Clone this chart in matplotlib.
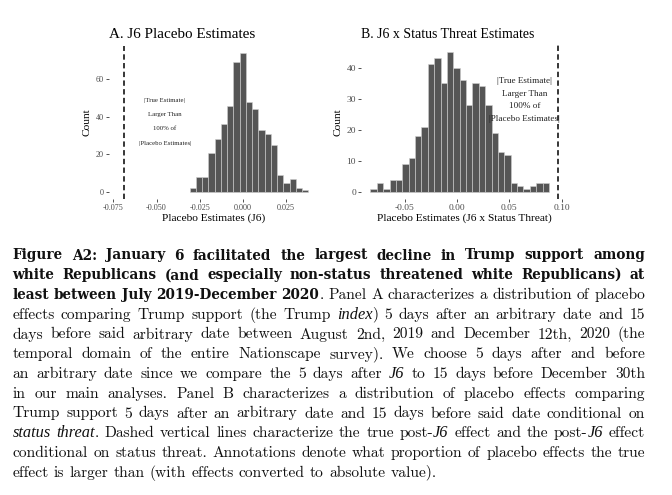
import numpy as np
import matplotlib
matplotlib.use("Agg")
import matplotlib.pyplot as plt

# Panel A: J6 placebo estimates (histogram)
a_start, a_width = -0.0309, 0.00362
a_counts = [2, 8, 8, 21, 28, 36, 46, 69, 74, 48, 44, 33, 31, 25, 9, 5, 7, 2, 1]
a_true = -0.0690
a_xticks = [-0.075, -0.050, -0.025, 0.000, 0.025]
a_yticks = [0, 20, 40, 60]
a_note_xy = (-0.0452, 37.4)

# Panel B: J6 x status threat estimates
b_start, b_width = -0.0828, 0.0061
b_counts = [1, 3, 1, 4, 4, 9, 11, 18, 21, 41, 43, 35, 45, 40, 36, 28, 35, 34,
            28, 19, 13, 12, 3, 2, 1, 2, 3, 3]
b_true = 0.0962
b_xticks = [-0.05, 0.00, 0.05, 0.10]
b_yticks = [0, 10, 20, 30, 40]
b_note_xy = (0.0646, 29.6)

note = "|True Estimate|\nLarger Than\n100% of\n|Placebo Estimates|"

# caption: * toggles bold, _ toggles italic
caption = [
    "*Figure A2: January 6 facilitated the largest decline in Trump support among*",
    "*white Republicans (and especially non-status threatened white Republicans) at*",
    "*least between July 2019-December 2020*. Panel A characterizes a distribution of placebo",
    "effects comparing Trump support (the Trump _index_) 5 days after an arbitrary date and 15",
    "days before said arbitrary date between August 2nd, 2019 and December 12th, 2020 (the",
    "temporal domain of the entire Nationscape survey). We choose 5 days after and before",
    "an arbitrary date since we compare the 5 days after _J6_ to 15 days before December 30th",
    "in our main analyses. Panel B characterizes a distribution of placebo effects comparing",
    "Trump support 5 days after an arbitrary date and 15 days before said date conditional on",
    "_status threat_. Dashed vertical lines characterize the true post-_J6_ effect and the post-_J6_ effect",
    "conditional on status threat. Annotations denote what proportion of placebo effects the true",
    "effect is larger than (with effects converted to absolute value).",
]

SERIF = "Liberation Serif"
W, H = 672, 495
fig = plt.figure(figsize=(W / 100, H / 100), dpi=100)


def px_axes(left, top, right, bottom):
    return fig.add_axes([left / W, 1 - bottom / H, (right - left) / W, (bottom - top) / H])


def panel(ax, start, width, counts, true_x, xticks, yticks, fmt, xlim,
          xlabel, tick_fs, lab_fs):
    edges = start + width * np.arange(len(counts))
    ax.bar(edges, counts, width=width, align="edge", color="#555555",
           edgecolor="#d0d0d0", linewidth=0.4, zorder=2)
    ax.axvline(true_x, color="black", ls=(0, (3.5, 2.2)), lw=1.1, zorder=3)
    ax.set_xlim(*xlim)
    top = max(counts)
    ax.set_ylim(-0.05 * top, 1.05 * top)
    ax.set_xticks(xticks)
    ax.set_xticklabels([fmt.format(v) for v in xticks], family=SERIF)
    ax.set_yticks(yticks)
    ax.set_yticklabels([str(v) for v in yticks], family=SERIF)
    ax.tick_params(length=2, width=0.6, color="#333333", labelcolor="#4d4d4d",
                   labelsize=tick_fs, pad=1.5)
    for s in ax.spines.values():
        s.set_visible(False)
    ax.set_xlabel(xlabel, family=SERIF, fontsize=lab_fs, labelpad=1)
    ax.set_ylabel("Count", family=SERIF, fontsize=lab_fs, labelpad=3)


axA = px_axes(109, 46, 318, 199)
panel(axA, a_start, a_width, a_counts, a_true, a_xticks, a_yticks, "{:.3f}",
      (-0.0775, 0.0434), "Placebo Estimates (J6)", 5.9, 8.2)
axA.text(*a_note_xy, note, family=SERIF, fontsize=4.9, ha="center", va="center",
         linespacing=3.3, color="#222222")
fig.text(109 / W, 1 - 37.5 / H, "A. J6 Placebo Estimates", family=SERIF,
         fontsize=10.9, va="baseline")

axB = px_axes(361, 45, 567, 199)
panel(axB, b_start, b_width, b_counts, b_true, b_xticks, b_yticks, "{:.2f}",
      (-0.0918, 0.1052), "Placebo Estimates (J6 x Status Threat)", 6.8, 8.2)
axB.text(*b_note_xy, note, family=SERIF, fontsize=6.6, ha="center", va="center",
         linespacing=1.75, color="#222222")
fig.text(361 / W, 1 - 37.5 / H, "B. J6 x Status Threat Estimates", family=SERIF,
         fontsize=10.0, va="baseline")


def parse(line):
    words, cur, seg, style = [], [], "", "r"
    for ch in line + " ":
        if ch in "*_":
            if seg:
                cur.append((seg, style))
                seg = ""
            new = "b" if ch == "*" else "i"
            style = "r" if style == new else new
        elif ch == " ":
            if seg:
                cur.append((seg, style))
                seg = ""
            if cur:
                words.append(cur)
                cur = []
        else:
            seg += ch
    return words


cap_fs = 11.2
fonts = {
    "r": dict(family="cmr10", fontsize=cap_fs),
    "b": dict(family="DejaVu Serif", weight="bold", fontsize=9.85),
    "i": dict(family=SERIF, style="italic", fontsize=cap_fs * 1.05),
}
left, right = 12.5, 645.0
base0, lead = 259.5, 19.75
space = cap_fs * 100 / 72 * 0.333
renderer = fig.canvas.get_renderer()

for k, line in enumerate(caption):
    y = 1 - (base0 + k * lead) / H
    items = []
    for word in parse(line):
        pieces = []
        for s, st in word:
            t = fig.text(0, y, s, va="baseline", color="#111111", **fonts[st])
            pieces.append((t, t.get_window_extent(renderer).width))
        items.append(pieces)
    total = sum(w for p in items for _, w in p)
    if k == len(caption) - 1:
        gap = space
    else:
        gap = max((right - left - total) / (len(items) - 1), 0.8 * space)
    x = left
    for p in items:
        for t, w in p:
            t.set_x(x / W)
            x += w
        x += gap

fig.savefig("out.png", dpi=100)
